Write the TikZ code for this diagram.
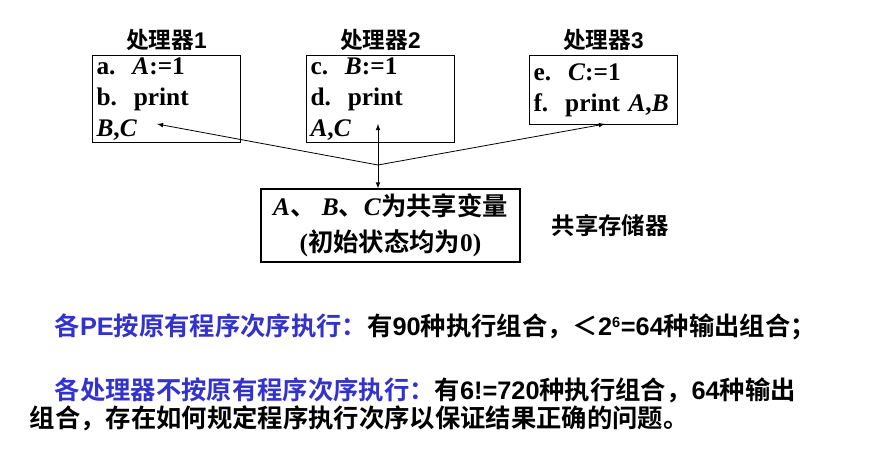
\documentclass[tikz,border=0pt]{standalone}
\usepackage{fontspec}
\setmainfont{Liberation Serif}
\newfontfamily\cjk{Noto Sans CJK SC}[BoldFont={Noto Sans CJK SC Bold}]
\newfontfamily\lsans{Liberation Sans}
\usetikzlibrary{positioning}
\definecolor{pblue}{RGB}{51,51,204}
\newlength\pxu
\setlength\pxu{0.75pt}
\tikzset{
  procbox/.style={draw, thick, minimum width=148\pxu, minimum height=69\pxu, text width=140\pxu, align=left, anchor=north west, inner sep=2pt, font=\bfseries\fontsize{19}{23}\selectfont},
  proclabel/.style={font=\cjk\bfseries\fontsize{17}{20}\selectfont},
  link/.style={-latex, semithick},
  note/.style={anchor=west, font=\cjk\bfseries\fontsize{19}{22}\selectfont}
}
\begin{document}
\begin{tikzpicture}[x=0.75pt, y=-0.75pt]
\useasboundingbox (0,0) rectangle (869,449);
% processors
\node[procbox] (p1) at (92,55) {a.\ \ \textit{A}:=1\\b.\ \ print \textit{B},\textit{C}};
\node[procbox] (p2) at (306,55) {c.\ \ \textit{B}:=1\\d.\ \ print \textit{A},\textit{C}};
\node[procbox] (p3) at (529,55) {e.\ \ \textit{C}:=1\\f.\ \ print \textit{A},\textit{B}};
\node[proclabel, above=0pt of p1] {处理器\lsans 1};
\node[proclabel, above=0pt of p2] {处理器\lsans 2};
\node[proclabel, above=0pt of p3] {处理器\lsans 3};
% shared memory
\node[draw, thick, minimum width=259\pxu, minimum height=73\pxu, align=center, inner sep=1pt, font=\bfseries\fontsize{19}{27}\selectfont] (mem) at (390.5,225.5)
  {\textit{A}{\cjk 、} \textit{B}{\cjk 、}\textit{C}{\cjk 为共享变量}\\({\cjk 初始状态均为}0)};
\node[proclabel, font=\cjk\bfseries\fontsize{17.5}{20}\selectfont] (memlbl) at (610,226) {共享存储器};
\coordinate (hub) at (378,165);
\draw[link] (hub) -- (157,124);
\draw[link] (hub) -- (605,124);
\draw[latex-latex, semithick] (378,124) -- (mem.north -| hub);
% notes
\node[note] (n1) at (50,327) {\textcolor{pblue}{各\lsans PE\cjk 按原有程序次序执行：}有\lsans 90\cjk 种执行组合，＜\lsans 2\textsuperscript{\fontsize{11}{11}\selectfont 6}=64\cjk 种输出组合；};
\node[note] (n2) at (50,390) {\textcolor{pblue}{各处理器不按原有程序次序执行：}有\lsans 6!=720\cjk 种执行组合，\lsans 64\cjk 种输出};
\node[note] (n3) at (25,418) {组合，存在如何规定程序执行次序以保证结果正确的问题。};
\end{tikzpicture}
\end{document}
